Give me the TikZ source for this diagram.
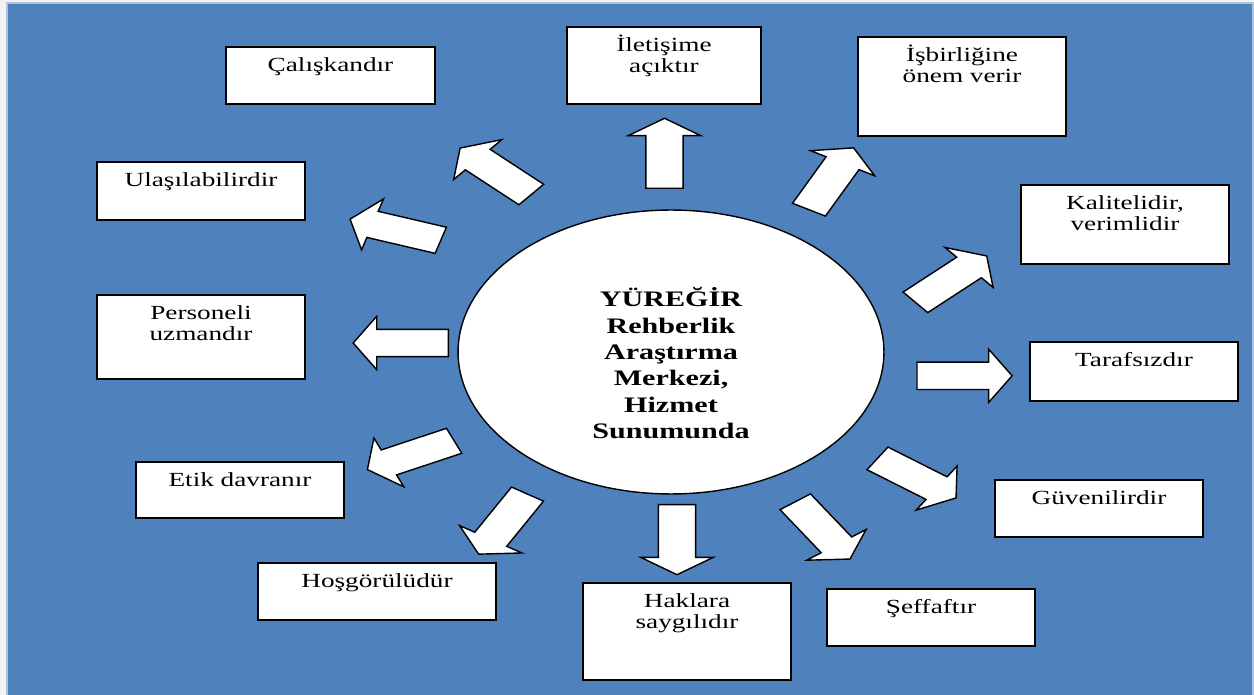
\documentclass[tikz,border=0pt]{standalone}
\usepackage{fontspec}
\setmainfont{Liberation Serif}[FakeStretch=1.36]
\usetikzlibrary{shapes.geometric}
\usetikzlibrary{shapes.arrows}

\definecolor{paper}{RGB}{242,242,242}
\definecolor{deskblue}{RGB}{79,129,189}
\definecolor{deskedge}{RGB}{175,195,220}

\tikzset{
  card/.style={draw=black, fill=white, line width=0.8pt, inner sep=0pt},
  cardtext/.style={anchor=base, text width=4.6cm, align=center, inner sep=0pt,
    font=\fontsize{11.4}{12}\selectfont},
  hub/.style={ellipse, draw=black, fill=white, line width=0.8pt, inner sep=0pt,
    minimum width=8.52cm, minimum height=5.68cm},
  hubtext/.style={anchor=base, text width=6cm, align=center, inner sep=0pt,
    font=\bfseries\fontsize{12.6}{15}\selectfont},
  blockarrow/.style={single arrow, draw=black, fill=white, line width=0.8pt,
    minimum height=1.4cm, inner xsep=0pt, inner ysep=0.26cm,
    single arrow head extend=0.26cm, single arrow tip angle=114,
    single arrow head indent=0pt, anchor=tail, xscale=1.36}
}

\begin{document}
\begin{tikzpicture}[x=0.02cm, y=-0.02cm]
	\useasboundingbox (0,0) rectangle (1254,695);
	\fill[paper] (0,0) rectangle (1254,695);
	\draw[deskedge, fill=deskblue, line width=0.6pt] (7,3) rectangle (1253,700);

	% centre
	\node[hub] (hub) at (671,352) {};
	\node[hubtext] (hubt) at (671,306.7) {YÜREĞİR\\Rehberlik\\Araştırma\\Merkezi,\\Hizmet\\Sunumunda};

	% boxes
	\foreach \nm/\xa/\ya/\xb/\yb/\txt in {
	  calis/226/47/435/104/{Çalışkandır},
	  ilet/567/27/761/104/{İletişime\\açıktır},
	  isbir/858/37/1066/136/{İşbirliğine\\önem verir},
	  ulas/97/162/305/220/{Ulaşılabilirdir},
	  kalite/1021/185/1229/264/{Kalitelidir,\\verimlidir},
	  pers/97/295/305/379/{Personeli\\uzmandır},
	  taraf/1030/342/1238/401/{Tarafsızdır},
	  etik/136/462/344/518/{Etik davranır},
	  guven/995/480/1203/537/{Güvenilirdir},
	  hosg/258/563/496/620/{Hoşgörülüdür},
	  hak/583/583/791/680/{Haklara\\saygılıdır},
	  seff/827/589/1035/646/{Şeffaftır}} {
	 \node[card, minimum width={(\xb-\xa)*0.02cm}, minimum height={(\yb-\ya)*0.02cm}]
	   (\nm) at ({(\xa+\xb)/2},{(\ya+\yb)/2}) {};
	 \node[cardtext] (\nm-t) at ([yshift=-0.51cm]\nm.north) {\txt};
	}

	% arrows
	\foreach \nm/\x/\y/\a in {a1/532/195/138.4, a2/664.5/189/90, a3/808.5/210.3/62,
	  a4/441.7/240.5/162.4, a5/914.7/302.8/41.5, a6/449.3/343/180, a7/916/375.8/0,
	  a8/455/440.5/204.3, a9/876.7/458/-34.4, a10/528/493.5/239.1, a11/677/504/270,
	  a12/794.7/501.2/-54.9} {
	 \node[blockarrow, rotate=\a] (\nm) at (\x,\y) {};
	}
\end{tikzpicture}
\end{document}
